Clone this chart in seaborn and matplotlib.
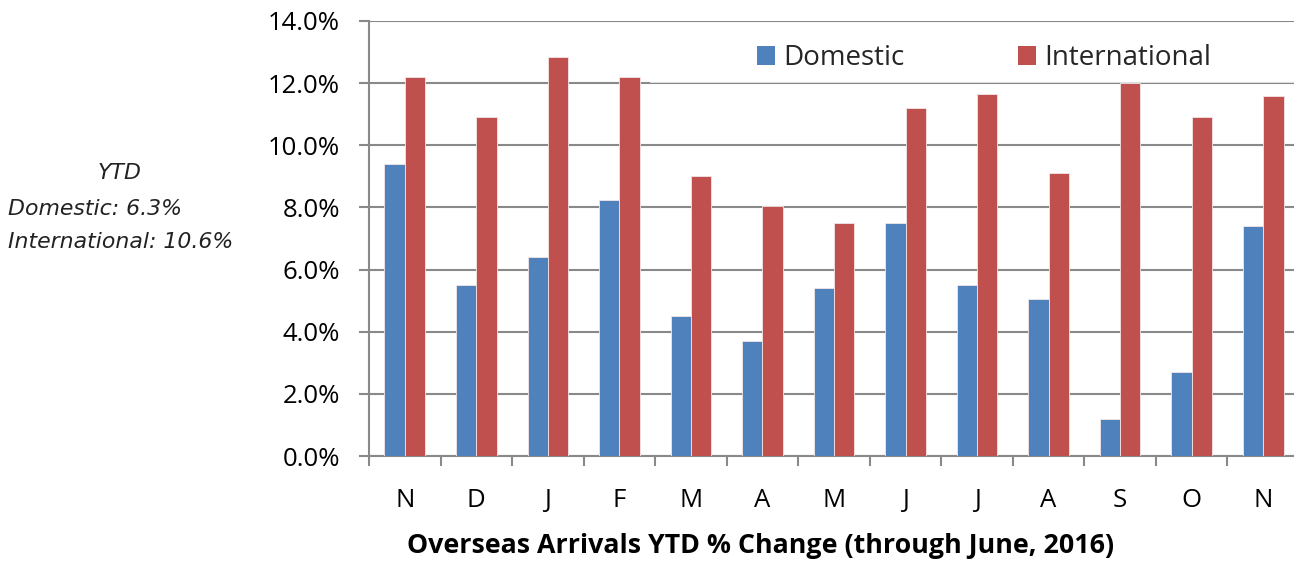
import matplotlib
matplotlib.use("Agg")
import matplotlib.pyplot as plt
from matplotlib.patches import Rectangle
from matplotlib.ticker import FixedLocator, FuncFormatter
import numpy as np
import pandas as pd
import seaborn as sns

# Monthly YTD % change in overseas arrivals
periods = ["2015-11", "2015-12", "2016-01", "2016-02", "2016-03", "2016-04", "2016-05",
           "2016-06", "2016-07", "2016-08", "2016-09", "2016-10", "2016-11"]
month_labels = ["N", "D", "J", "F", "M", "A", "M", "J", "J", "A", "S", "O", "N"]
domestic = [9.4, 5.5, 6.4, 8.25, 4.5, 3.7, 5.4, 7.5, 5.5, 5.05, 1.2, 2.7, 7.4]
international = [12.2, 10.9, 12.85, 12.2, 9.0, 8.05, 7.5, 11.2, 11.65, 9.1, 12.0, 10.9, 11.6]
series_names = ["Domestic", "International"]
series_colors = ["#4F81BD", "#C0504D"]
ytd_lines = ["YTD", "Domestic: 6.3%", "International: 10.6%"]
x_title = "Overseas Arrivals YTD % Change (through June, 2016)"

df = pd.DataFrame({
    "period": periods * 2,
    "series": [series_names[0]] * len(periods) + [series_names[1]] * len(periods),
    "value": domestic + international,
})

sns.set_theme(style="white")
plt.rcParams["font.family"] = ["Open Sans", "DejaVu Sans"]

fig = plt.figure(figsize=(12.94, 5.65), dpi=100)
ax = fig.add_axes([369 / 1294, 109 / 565, 930 / 1294, 435 / 565])

grid_color = "#898989"
sns.barplot(data=df, x="period", y="value", hue="series", order=periods,
            hue_order=series_names, palette=series_colors, width=0.567, gap=0,
            saturation=1, edgecolor="#f3e6e6", linewidth=0.6, legend=False,
            ax=ax, zorder=3)

ax.set_xlim(-0.5, len(periods) - 0.5)
ax.set_ylim(0, 14)
ax.set_yticks(np.arange(0, 14.1, 2))
ax.yaxis.set_major_formatter(FuncFormatter(lambda v, _: f"{v:.1f}%"))
ax.grid(axis="y", color=grid_color, linewidth=1.5, zorder=0)
ax.set_axisbelow(True)

ax.set_xticks(range(len(periods)))
ax.set_xticklabels(month_labels)
ax.xaxis.set_minor_locator(FixedLocator(np.arange(-0.5, len(periods), 1.0)))
ax.tick_params(axis="x", which="major", length=0, pad=23, labelsize=18.5, labelcolor="#000000")
ax.tick_params(axis="x", which="minor", length=7, width=1.5, color=grid_color, direction="out")
ax.tick_params(axis="y", which="major", length=7, width=1.5, color=grid_color,
               direction="out", pad=14, labelsize=18.5, labelcolor="#000000")
ax.tick_params(bottom=True, left=True, which="both")

for side in ["top", "right"]:
    ax.spines[side].set_visible(False)
for side in ["left", "bottom"]:
    ax.spines[side].set_color(grid_color)
    ax.spines[side].set_linewidth(1.5)

ax.set_xlabel(x_title, fontsize=19.3, fontweight="bold", color="#000000")
ax.xaxis.set_label_coords(0.421, -0.178)
ax.set_ylabel("")

# Translucent white panel behind the legend
ax.add_patch(Rectangle((0.302, 12 / 14), 0.698, 2 / 14 - 0.004, transform=ax.transAxes,
                       facecolor="white", alpha=0.72, edgecolor="none", zorder=4))
handles = [Rectangle((0, 0), 1, 1, facecolor=c, edgecolor="none") for c in series_colors]
leg = ax.legend(handles, series_names, loc="center left", bbox_to_anchor=(0.417, 0.914),
                ncol=2, frameon=False, fontsize=20, handlelength=0.65, handleheight=0.65,
                handletextpad=0.3, columnspacing=4.1, borderaxespad=0, borderpad=0)
leg.set_zorder(5)

# YTD summary at the left
ytd_font = dict(fontsize=15.8, style="italic", color="#222222", family=["DejaVu Sans"])
fig.text(120 / 1294, 1 - 173 / 565, ytd_lines[0], ha="center", va="center", **ytd_font)
fig.text(8 / 1294, 1 - 209 / 565, ytd_lines[1], ha="left", va="center", **ytd_font)
fig.text(8 / 1294, 1 - 242 / 565, ytd_lines[2], ha="left", va="center", **ytd_font)

fig.savefig("out.png", dpi=100)
